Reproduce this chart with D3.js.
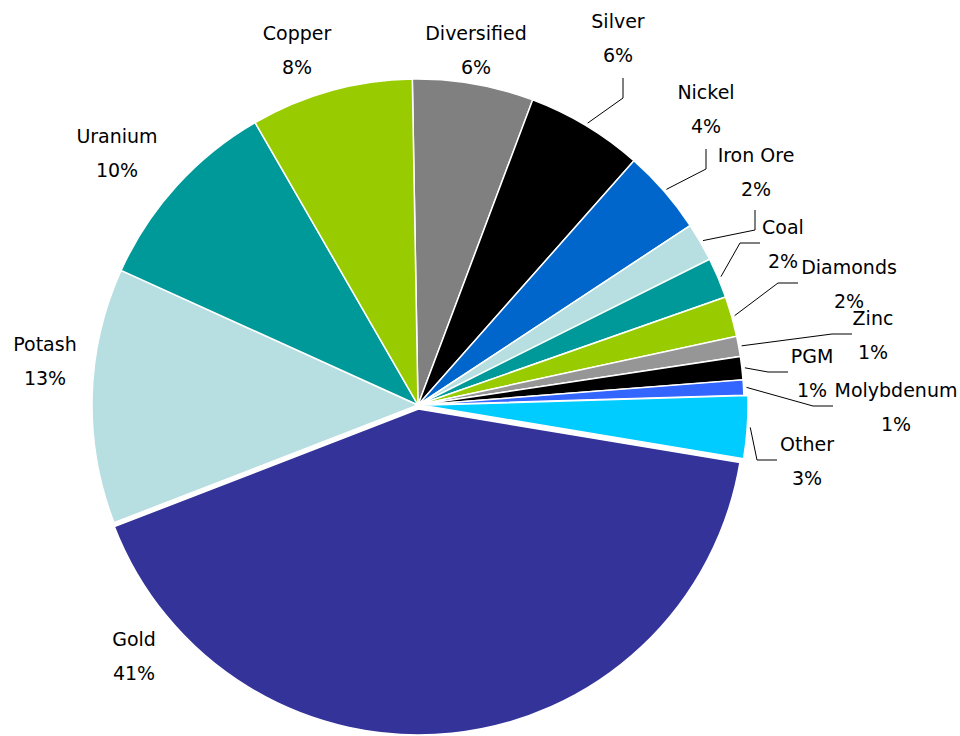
<!DOCTYPE html>
<html>
<head>
<meta charset="utf-8">
<script src="https://cdn.jsdelivr.net/npm/d3@7"></script>
<style>
    body { margin: 0; background: #fff; }
    svg text { font-family: "DejaVu Sans", sans-serif; font-size: 19px; fill: #000; }
</style>
</head>
<body>
<div id="chart"></div>
<script>
// Data (clockwise from 12 o'clock)
const categories = ['Diversified', 'Silver', 'Nickel', 'Iron Ore', 'Coal', 'Diamonds', 'Zinc',
    'PGM', 'Molybdenum', 'Other', 'Gold', 'Potash', 'Uranium', 'Copper'];
const shares = [6.0, 5.8, 4.2, 1.9, 2.0, 2.0, 1.0, 1.15, 0.75, 3.1, 41.5, 12.65, 9.9, 8.05];
const pctLabels = ['6%', '6%', '4%', '2%', '2%', '2%', '1%', '1%', '1%', '3%', '41%', '13%', '10%', '8%'];
const exploded = ['Gold', 'Other'];

const colors = ['#808080', '#000000', '#0066cc', '#b7dee1', '#009999', '#99cc00', '#969696',
    '#000000', '#3366ff', '#00ccff', '#333399', '#b7dee1', '#009999', '#99cc00'];

// label layout: centre x, baseline of first line, optional leader end + direction
const labelLayout = {
    'Diversified': { x: 476, y: 40 },
    'Silver':      { x: 618, y: 28,  end: [623, 78],  dir: 'v' },
    'Nickel':      { x: 706, y: 99,  end: [706, 149], dir: 'v' },
    'Iron Ore':    { x: 756, y: 162, end: [755, 210], dir: 'v' },
    'Coal':        { x: 783, y: 234, end: [760, 243], dir: 'h' },
    'Diamonds':    { x: 849, y: 274, end: [798, 283], dir: 'h' },
    'Zinc':        { x: 873, y: 325, end: [852, 334], dir: 'h' },
    'PGM':         { x: 812, y: 363, end: [788, 372], dir: 'h' },
    'Molybdenum':  { x: 896, y: 397, end: [833, 406], dir: 'h' },
    'Other':       { x: 807, y: 451, end: [777, 460], dir: 'h' },
    'Gold':        { x: 134, y: 646 },
    'Potash':      { x: 45,  y: 351 },
    'Uranium':     { x: 117, y: 143 },
    'Copper':      { x: 297, y: 40 }
};

const width = 960, height = 736;
const cx = 418, cy = 405, radius = 326;
const explodeBy = 4;
const lineGap = 34;

const data = categories.map((k, i) => ({ k: k, v: shares[i], pct: pctLabels[i], color: colors[i] }));

const svg = d3.select('#chart')
    .append('svg')
    .attr('width', width)
    .attr('height', height);

const chart = svg.append('g')
    .attr('transform', `translate(${cx}, ${cy})`);

const start = -1 * Math.PI / 180;
const pie = d3.pie()
    .sort(null)
    .value(d => d.v)
    .startAngle(start)
    .endAngle(start + 2 * Math.PI);

const arc = d3.arc().innerRadius(0).outerRadius(radius);
const arcs = pie(data);

const offset = d => {
    if (!exploded.includes(d.data.k)) return [0, 0];
    const a = (d.startAngle + d.endAngle) / 2;
    return [Math.sin(a) * explodeBy, -Math.cos(a) * explodeBy];
};

chart.selectAll('path.slice')
    .data(arcs)
    .join('path')
    .attr('class', 'slice')
    .attr('transform', d => `translate(${offset(d)})`)
    .attr('d', arc)
    .attr('fill', d => d.data.color)
    .attr('stroke', '#fff')
    .attr('stroke-width', 1.5);

// Leader lines
const edge = d3.arc().innerRadius(radius + 3).outerRadius(radius + 3);
const leaders = arcs.filter(d => labelLayout[d.data.k].end);

svg.selectAll('polyline.leader')
    .data(leaders)
    .join('polyline')
    .attr('class', 'leader')
    .attr('fill', 'none')
    .attr('stroke', '#000')
    .attr('stroke-width', 1)
    .attr('points', d => {
        const a = (d.startAngle + d.endAngle) / 2;
        const o = offset(d);
        const p0 = [cx + o[0] + Math.sin(a) * (radius + 3), cy + o[1] - Math.cos(a) * (radius + 3)];
        const L = labelLayout[d.data.k];
        const p2 = L.end;
        const p1 = L.dir === 'v' ? [p2[0], p2[1] + 20] : [p2[0] - 20, p2[1]];
        return [p0, p1, p2].map(p => p.join(',')).join(' ');
    });

// Labels
const labels = svg.selectAll('text.label')
    .data(arcs)
    .join('text')
    .attr('class', 'label')
    .attr('text-anchor', 'middle');

labels.append('tspan')
    .attr('x', d => labelLayout[d.data.k].x)
    .attr('y', d => labelLayout[d.data.k].y)
    .text(d => d.data.k);

labels.append('tspan')
    .attr('x', d => labelLayout[d.data.k].x)
    .attr('y', d => labelLayout[d.data.k].y + lineGap)
    .text(d => d.data.pct);
</script>
</body>
</html>
